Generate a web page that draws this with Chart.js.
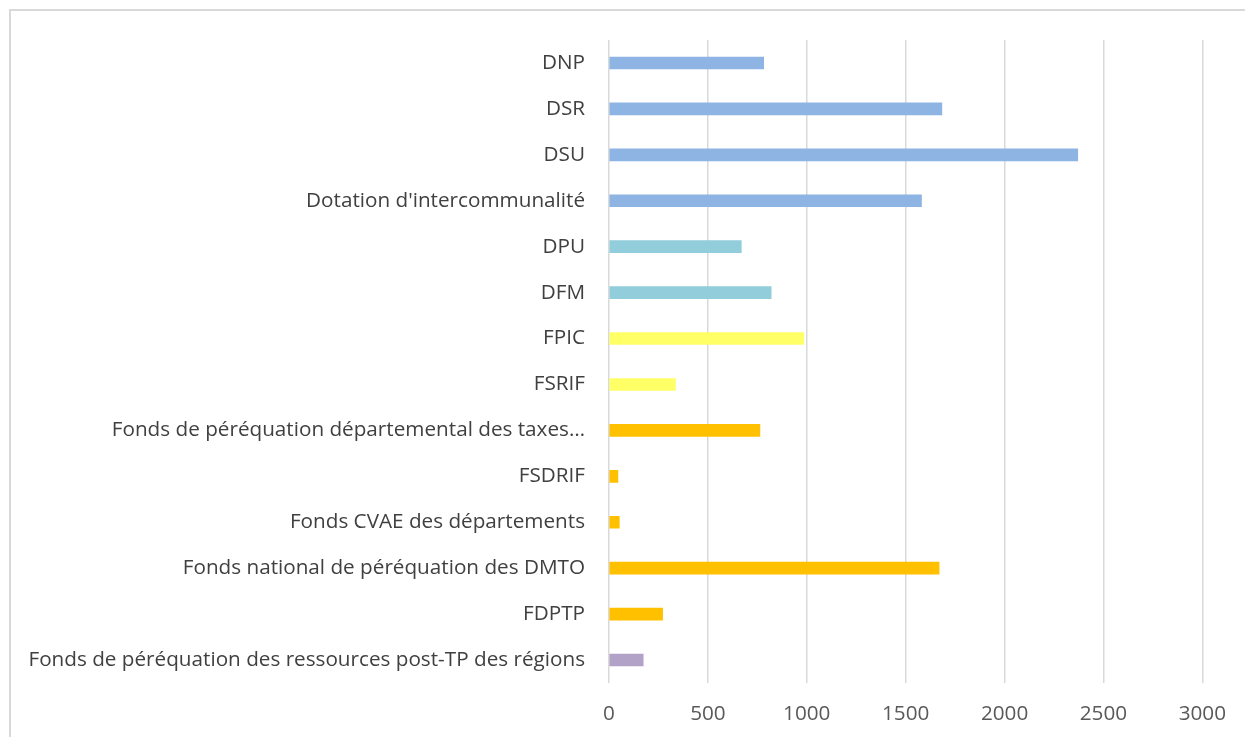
<!DOCTYPE html>
<html>
<head>
<meta charset="utf-8">
<script src="https://cdn.jsdelivr.net/npm/chart.js@4"></script>
<style>
  body { margin: 0; background: #fff; overflow: hidden; }
  #frame { position: absolute; left: 9px; top: 9px; width: 1300px; height: 800px; border: 2px solid #d9d9d9; box-sizing: border-box; }
  #wrap { position: absolute; left: 0; top: 0; width: 1245px; height: 737px; }
</style>
</head>
<body>
<div id="frame"></div>
<div id="wrap"><canvas id="dotationsChart" width="1245" height="737"></canvas></div>
<script>
var categories = ['DNP', 'DSR', 'DSU', "Dotation d'intercommunalité", 'DPU', 'DFM', 'FPIC', 'FSRIF',
    'Fonds de péréquation départemental des taxes…', 'FSDRIF', 'Fonds CVAE des départements',
    'Fonds national de péréquation des DMTO', 'FDPTP', 'Fonds de péréquation des ressources post-TP des régions'];
var montants = [782, 1683, 2370, 1580, 669, 820, 985, 336, 763, 45, 52, 1669, 271, 173];
var xTicks = [0, 500, 1000, 1500, 2000, 2500, 3000];

// couleurs par groupe
var barColors = ['#8db4e2', '#8db4e2', '#8db4e2', '#8db4e2', '#92cddc', '#92cddc', '#ffff66', '#ffff66',
    '#ffc000', '#ffc000', '#ffc000', '#ffc000', '#ffc000', '#b3a2c7'];

var labelFont = { family: "'Open Sans', sans-serif", size: 20.7 };

var ctx = document.getElementById('dotationsChart').getContext('2d');
var dotationsChart = new Chart(ctx, {
    type: 'bar',
    data: {
        labels: categories,
        datasets: [{
            data: montants,
            backgroundColor: barColors,
            borderWidth: 0,
            barThickness: 12
        }]
    },
    options: {
        indexAxis: 'y',
        responsive: false,
        animation: false,
        layout: { padding: { top: 40, right: 41, left: 0, bottom: 0 } },
        plugins: { legend: { display: false }, tooltip: { enabled: false } },
        scales: {
            x: {
                min: 0,
                max: 3000,
                afterBuildTicks: function (scale) {
                    scale.ticks = xTicks.map(function (v) { return { value: v }; });
                },
                afterFit: function (scale) { scale.height = 54; },
                grid: { color: '#d9d9d9', lineWidth: 1.5, drawTicks: false },
                border: { display: false },
                ticks: {
                    color: '#595959', font: labelFont, padding: 19, maxRotation: 0,
                    callback: function (v) { return String(v); }
                }
            },
            y: {
                afterFit: function (scale) { scale.width = 609; },
                grid: { display: false, drawTicks: false },
                border: { display: false },
                ticks: { color: '#404040', font: labelFont, padding: 24, autoSkip: false }
            }
        }
    }
});
</script>
</body>
</html>
